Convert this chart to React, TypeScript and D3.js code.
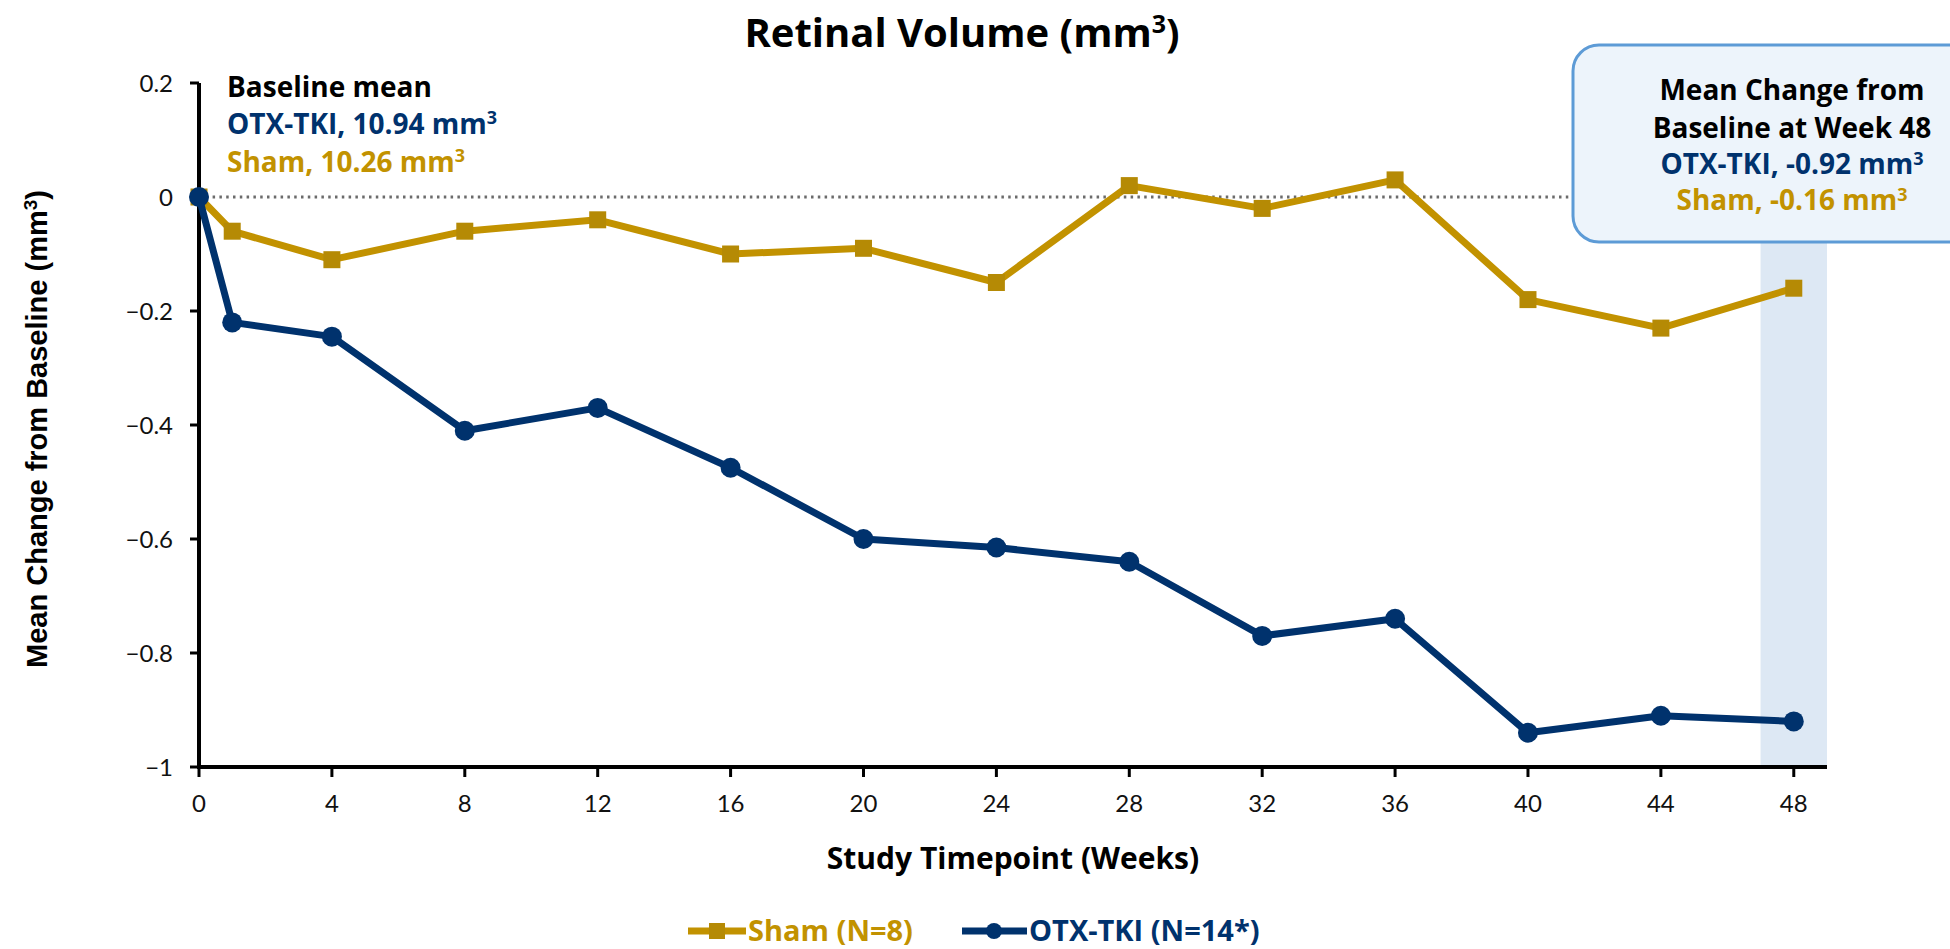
import React from 'react';
import * as d3 from 'd3';

const weeks = [0, 1, 4, 8, 12, 16, 20, 24, 28, 32, 36, 40, 44, 48];
const shamValues = [0, -0.06, -0.11, -0.06, -0.04, -0.1, -0.09, -0.15, 0.02, -0.02, 0.03, -0.18, -0.23, -0.16];
const otxValues = [0, -0.22, -0.245, -0.41, -0.37, -0.475, -0.6, -0.615, -0.64, -0.77, -0.74, -0.94, -0.91, -0.92];
const xTicks = [0, 4, 8, 12, 16, 20, 24, 28, 32, 36, 40, 44, 48];
const yTicks = [0.2, 0, -0.2, -0.4, -0.6, -0.8, -1];
const highlightRange = [47, 49];

const GOLD = '#C29200';
const GOLD_MARK = '#B58A05';
const NAVY = '#00326D';
const FONT = '"Open Sans", Lato, sans-serif';
const TICK_FONT = 'Lato, "Open Sans", sans-serif';

const width = 1950;
const height = 949;
const margin = { top: 83, right: 123, bottom: 182, left: 199 };

export default function App() {
  const x = d3.scaleLinear().domain([0, 49]).range([margin.left, width - margin.right]);
  const y = d3.scaleLinear().domain([-1, 0.2]).range([height - margin.bottom, margin.top]);

  const line = d3.line<number>()
    .x((_, i) => x(weeks[i]))
    .y(d => y(d));

  const x0 = x(0);
  const y0 = y(-1);
  const sq = 17;

  return (
    <svg width={width} height={height} style={{ position: 'fixed', left: 0, top: 0, display: 'block', background: '#fff' }}
      fontFamily={FONT}>
      {/* highlight band at week 48 */}
      <rect x={x(highlightRange[0])} y={y(0.2)} width={x(highlightRange[1]) - x(highlightRange[0])}
        height={y(-1) - y(0.2)} fill="#DDE8F4" />

      {/* zero reference */}
      <line x1={x(0)} x2={1572} y1={y(0)} y2={y(0)} stroke="#6b6b6b" strokeWidth={3}
        strokeDasharray="2.5 4.3" />

      {/* axes */}
      <line x1={x0} x2={x0} y1={y(0.2)} y2={y0 + 2} stroke="#000" strokeWidth={4} />
      <line x1={x0 - 2} x2={x(49)} y1={y0} y2={y0} stroke="#000" strokeWidth={4} />
      {yTicks.map(t => (
        <g key={'y' + t}>
          <line x1={x0 - 9} x2={x0} y1={y(t)} y2={y(t)} stroke="#000" strokeWidth={3} />
          <text x={x0 - 26} y={y(t)} dy="0.36em" textAnchor="end" fontFamily={TICK_FONT} fontSize={24} fill="#111">{d3.format('')(t)}</text>
        </g>
      ))}
      {xTicks.map(t => (
        <g key={'x' + t}>
          <line x1={x(t)} x2={x(t)} y1={y0} y2={y0 + 10} stroke="#000" strokeWidth={3} />
          <text x={x(t)} y={y0 + 45} textAnchor="middle" fontFamily={TICK_FONT} fontSize={24} fill="#111">{t}</text>
        </g>
      ))}

      {/* series */}
      <path d={line(shamValues) || ''} fill="none" stroke={GOLD} strokeWidth={7} strokeLinejoin="round" />
      {shamValues.map((v, i) => (
        <rect key={'s' + i} x={x(weeks[i]) - sq / 2} y={y(v) - sq / 2} width={sq} height={sq} fill={GOLD_MARK} />
      ))}
      <path d={line(otxValues) || ''} fill="none" stroke={NAVY} strokeWidth={7} strokeLinejoin="round" />
      {otxValues.map((v, i) => (
        <circle key={'o' + i} cx={x(weeks[i])} cy={y(v)} r={10} fill={NAVY} />
      ))}

      {/* title */}
      <text x={962} y={47} textAnchor="middle" fontSize={40} fontWeight={700} fill="#000">
        Retinal Volume (mm<tspan dy={-14} fontSize={25}>3</tspan><tspan dy={14}>)</tspan>
      </text>

      {/* baseline annotation */}
      <text x={227} y={97} fontSize={28} fontWeight={700} fill="#000">Baseline mean</text>
      <text x={227} y={134} fontSize={28} fontWeight={700} fill={NAVY}>
        OTX-TKI, 10.94 mm<tspan dy={-10} fontSize={18}>3</tspan>
      </text>
      <text x={227} y={172} fontSize={28} fontWeight={700} fill={GOLD}>
        Sham, 10.26 mm<tspan dy={-10} fontSize={18}>3</tspan>
      </text>

      {/* week 48 callout */}
      <rect x={1573} y={45} width={420} height={197} rx={26} fill="#EDF4FB" stroke="#5D9BD6" strokeWidth={3} />
      <g textAnchor="middle" fontSize={28} fontWeight={700}>
        <text x={1792} y={100} fill="#000">Mean Change from</text>
        <text x={1792} y={138} fill="#000">Baseline at Week 48</text>
        <text x={1792} y={174} fill={NAVY}>OTX-TKI, -0.92 mm<tspan dy={-9} fontSize={18}>3</tspan></text>
        <text x={1792} y={210} fill={GOLD}>Sham, -0.16 mm<tspan dy={-9} fontSize={18}>3</tspan></text>
      </g>

      {/* axis titles */}
      <text transform={`translate(37, ${y(-0.4) + 4}) rotate(-90)`} textAnchor="middle" dy="0.35em"
        fontFamily='"Liberation Sans", Arial, sans-serif' fontSize={29} fontWeight={700} fill="#000">
        Mean Change from Baseline (mm<tspan dy={-10} fontSize={19}>3</tspan><tspan dy={10}>)</tspan>
      </text>
      <text x={(x(0) + x(49)) / 2} y={869} textAnchor="middle" fontSize={30} fontWeight={700} fill="#000">
        Study Timepoint (Weeks)
      </text>

      {/* legend */}
      <g fontSize={29} fontWeight={700}>
        <line x1={688} x2={746} y1={931} y2={931} stroke={GOLD} strokeWidth={7} />
        <rect x={717 - 8} y={931 - 8} width={16} height={16} fill={GOLD_MARK} />
        <text x={748} y={931} dy="0.35em" fill={GOLD}>Sham (N=8)</text>
        <line x1={962} x2={1027} y1={931} y2={931} stroke={NAVY} strokeWidth={7} />
        <circle cx={994} cy={931} r={8} fill={NAVY} />
        <text x={1029} y={931} dy="0.35em" fill={NAVY}>OTX-TKI (N=14*)</text>
      </g>
    </svg>
  );
}
